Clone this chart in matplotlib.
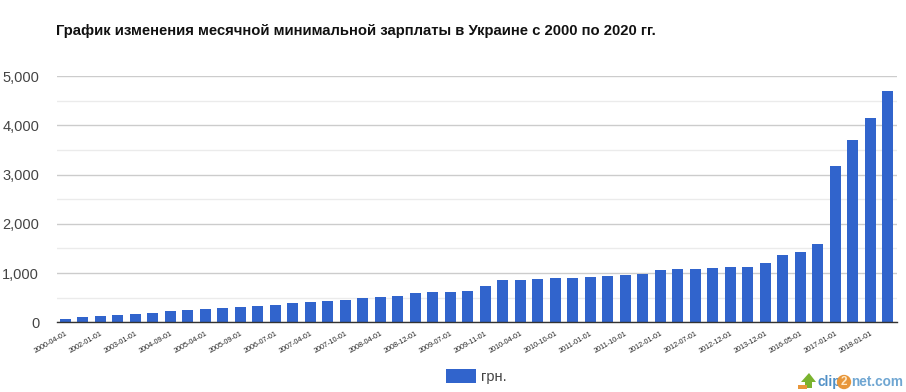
import matplotlib
matplotlib.use("Agg")
import matplotlib.pyplot as plt
from matplotlib.patches import Polygon, Rectangle

W, H = 906, 392
plt.rcParams['font.family'] = ['Liberation Sans', 'DejaVu Sans']

title = "График изменения месячной минимальной зарплаты в Украине с 2000 по 2020 гг."
series_name = "грн."
tick_labels = ["2000-04-01", "2002-01-01", "2003-01-01", "2004-09-01", "2005-04-01", "2005-09-01",
               "2006-07-01", "2007-04-01", "2007-10-01", "2008-04-01", "2008-12-01", "2009-07-01",
               "2009-11-01", "2010-04-01", "2010-10-01", "2011-01-01", "2011-10-01", "2012-01-01",
               "2012-07-01", "2012-12-01", "2013-12-01", "2016-05-01", "2017-01-01", "2018-01-01"]
values = [70, 108, 129, 149, 170, 190, 230, 251, 271, 292, 312, 332, 353, 393,
          414, 434, 454, 495, 515, 535, 597, 617, 617, 637, 739, 861, 861, 881, 902, 902, 922,
          942, 962, 982, 1063, 1084, 1084, 1105, 1125, 1125, 1206, 1369, 1430, 1592,
          3178, 3706, 4154, 4702]
major_ticks = [0, 1000, 2000, 3000, 4000, 5000]
minor_ticks = [500, 1500, 2500, 3500, 4500]

BLUE = "#3164cc"
fig = plt.figure(figsize=(W / 100, H / 100), dpi=100, facecolor="white")
left, right, top, bottom = 56.5, 896.7, 76.0, 322.3
ax = fig.add_axes([left / W, 1 - bottom / H, (right - left) / W, (bottom - top) / H])
xs = list(range(len(values)))
ax.bar(xs, values, width=0.63, color=BLUE, zorder=3, label=series_name)
ax.set_xlim(-0.5, len(values) - 0.5)
ax.set_ylim(0, 5000)
for s in ["top", "right", "left"]:
    ax.spines[s].set_visible(False)
ax.spines["bottom"].set_color("#333333")
ax.spines["bottom"].set_linewidth(1.0)
ax.spines["bottom"].set_zorder(4)
ax.set_yticks(major_ticks)
ax.set_yticklabels([f"{v:,}" for v in major_ticks], fontsize=10.5, color="#444444")
ax.set_yticks(minor_ticks, minor=True)
ax.tick_params(axis="y", which="both", length=0, pad=12.5)
ax.grid(axis="y", which="major", color="#cccccc", linewidth=1.0, zorder=0)
ax.grid(axis="y", which="minor", color="#ebebeb", linewidth=1.0, zorder=0)
ax.set_xticks(xs[::2])
ax.set_xticklabels(tick_labels, fontsize=5.2, rotation=30, ha="right", rotation_mode="anchor", color="#222222")
ax.tick_params(axis="x", length=0, pad=5.5)

fig.text(56 / W, 1 - 30.5 / H, title, fontsize=10.7, fontweight="bold", color="#111111", va="center", ha="left")

leg = ax.legend(loc="center left", bbox_to_anchor=(441.5 / W, 1 - 376.5 / H), bbox_transform=fig.transFigure,
                frameon=False, fontsize=10.5, handlelength=2.06, handleheight=1.05, handletextpad=0.38, borderpad=0.3,
                borderaxespad=0, labelcolor="#444444")

# watermark
fig.text(817 / W, 1 - 382 / H, "clip", fontsize=9.8, fontweight="bold", color="#4f8fc6", va="center", ha="left")
fig.text(844 / W, 1 - 382 / H, "2", fontsize=8.5, fontweight="bold", color="#ffe9c8", va="center", ha="center",
         bbox=dict(boxstyle="circle,pad=0.1", facecolor="#e8963a", edgecolor="none"))
fig.text(851 / W, 1 - 382 / H, "net.com", fontsize=9.8, fontweight="bold", color="#6fa6d2", va="center", ha="left")
px = lambda x, y: (x / W, 1 - y / H)
fig.add_artist(Polygon([px(801, 382), px(809, 373), px(816, 382), px(812, 382), px(812, 388), px(805, 388), px(805, 382)],
                       closed=True, facecolor="#7ab32e", edgecolor="none", transform=fig.transFigure))
fig.add_artist(Rectangle(px(798, 388.5), 9 / W, 4 / H, facecolor="#e8963a", edgecolor="none", transform=fig.transFigure))

fig.savefig("out.png", dpi=100, facecolor="white")
